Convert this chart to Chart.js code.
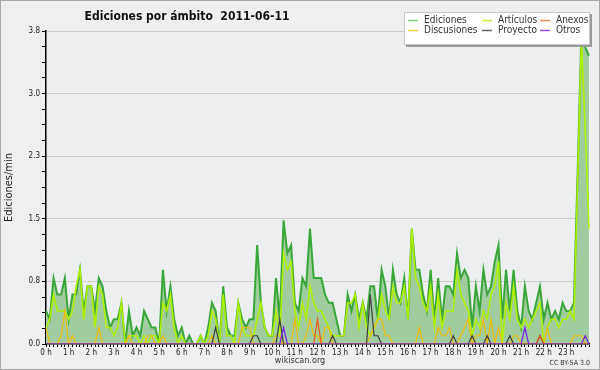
<!DOCTYPE html>
<html><head><meta charset="utf-8">
<script src="https://cdn.jsdelivr.net/npm/chart.js@4.4.1/dist/chart.umd.min.js"></script>
<style>html,body{margin:0;padding:0;background:#efefef;}canvas{display:block;}</style>
</head><body>
<canvas id="c" width="600" height="370"></canvas>
<script>
// 10-minute slots, 00:00 .. 24:00
const hourLabels = ['0 h','1 h','2 h','3 h','4 h','5 h','6 h','7 h','8 h','9 h','10 h','11 h','12 h','13 h','14 h','15 h','16 h','17 h','18 h','19 h','20 h','21 h','22 h','23 h'];
const slots = [];
for (let h = 0; h <= 24; h++) for (let m = 0; m < 60; m += 10) { if (h === 24 && m > 0) break; slots.push(String(h).padStart(2,'0') + ':' + String(m).padStart(2,'0')); }
const yTickLabels = ['0.0','0.8','1.5','2.3','3.0','3.8'];

const ediciones = [
0.4,0.3,0.8,0.6,0.6,0.8,0.3,0.6,0.6,0.9,
0.4,0.7,0.7,0.4,0.8,0.7,0.4,0.2,0.3,0.3,
0.5,0.0,0.4,0.1,0.2,0.1,0.4,0.3,0.2,0.2,
0.0,0.9,0.4,0.7,0.3,0.1,0.2,0.0,0.1,0.0,
0.0,0.1,0.0,0.2,0.5,0.4,0.0,0.7,0.2,0.1,
0.1,0.5,0.3,0.2,0.3,0.3,1.2,0.5,0.2,0.1,
0.1,0.8,0.3,1.5,1.1,1.2,0.5,0.4,0.8,0.7,
1.4,0.8,0.8,0.8,0.6,0.5,0.5,0.3,0.1,0.1,
0.6,0.4,0.6,0.3,0.5,0.3,0.7,0.7,0.3,0.9,
0.7,0.3,0.9,0.6,0.5,0.8,0.3,1.4,0.9,0.9,
0.6,0.4,0.9,0.3,0.8,0.3,0.7,0.7,0.6,1.1,
0.8,0.9,0.8,0.2,0.7,0.4,0.9,0.6,0.7,1.0,
1.2,0.3,0.9,0.4,0.9,0.4,0.2,0.7,0.4,0.3,
0.5,0.7,0.3,0.5,0.3,0.4,0.3,0.5,0.4,0.4,
0.5,2.1,3.8,3.6,3.5];
const articulos = [
0.2,0.3,0.6,0.4,0.4,0.4,0.3,0.4,0.7,0.9,
0.3,0.7,0.7,0.2,0.7,0.6,0.2,0.2,0.1,0.2,
0.5,0.0,0.1,0.1,0.1,0.0,0.1,0.0,0.1,0.1,
0.0,0.5,0.4,0.6,0.2,0.0,0.1,0.0,0.0,0.0,
0.0,0.1,0.0,0.1,0.4,0.3,0.0,0.6,0.1,0.1,
0.0,0.5,0.2,0.1,0.1,0.1,0.3,0.5,0.2,0.1,
0.1,0.4,0.1,1.1,0.9,1.0,0.4,0.2,0.5,0.3,
0.7,0.5,0.4,0.4,0.3,0.2,0.1,0.1,0.1,0.1,
0.5,0.5,0.6,0.2,0.5,0.2,0.1,0.2,0.3,0.6,
0.4,0.3,0.7,0.5,0.5,0.7,0.3,1.4,0.8,0.7,
0.5,0.4,0.7,0.2,0.6,0.2,0.4,0.4,0.4,0.9,
0.6,0.5,0.4,0.1,0.3,0.2,0.4,0.3,0.6,0.7,
1.0,0.0,0.5,0.3,0.7,0.3,0.2,0.3,0.2,0.3,
0.4,0.5,0.0,0.2,0.3,0.3,0.2,0.3,0.3,0.4,
0.3,2.0,3.7,2.6,1.4];
const discusiones = [
0.2,0,0,0,0.1,0.4,0,0.1,0,0,
0,0,0,0,0.2,0,0,0,0,0,
0,0,0.1,0,0,0,0,0.1,0.1,0,
0,0.1,0,0,0,0,0,0,0,0,
0,0,0,0,0.1,0,0,0,0,0,
0,0,0.2,0.2,0.2,0,0,0,0,0,
0,0.1,0.1,0,0,0,0.3,0,0,0.1,
0.3,0.1,0.1,0,0.2,0.2,0,0,0,0,
0,0,0,0,0,0,0.1,0.2,0.3,0.3,
0.1,0.1,0,0,0,0,0,0,0,0.2,
0,0,0,0,0.2,0.1,0.1,0.2,0,0,
0.1,0.2,0.3,0,0.1,0.1,0.3,0,0.3,0,
0.2,0,0,0,0.1,0.1,0,0,0,0,
0,0,0,0.2,0,0,0,0,0,0,
0.1,0.1,0.1,0,0];
const proyecto = [
0,0,0,0,0,0,0,0,0,0,
0,0,0,0,0,0,0,0,0,0,
0,0,0,0,0,0,0,0,0,0,
0,0,0,0,0,0,0,0,0,0,
0,0,0,0,0,0.2,0,0,0,0,
0,0,0,0,0,0.1,0.1,0,0,0,
0,0,0.3,0,0,0,0,0,0,0,
0,0,0,0,0,0,0.1,0,0,0,
0,0,0,0,0,0,0.6,0.1,0.1,0,
0,0,0,0,0,0,0,0,0,0,
0,0,0,0,0,0,0,0,0.1,0,
0,0,0,0.1,0,0,0,0.1,0,0,
0,0,0,0.1,0,0,0,0,0,0,
0,0.1,0,0,0,0,0,0,0,0,
0,0,0,0,0];
const anexos = [
0,0,0,0,0,0,0,0,0,0,
0,0,0,0,0,0,0,0,0,0,
0,0,0,0,0,0,0,0,0,0,
0,0,0,0,0,0,0,0,0,0,
0,0,0,0,0,0,0,0,0,0,
0,0,0,0,0,0,0,0,0,0,
0,0,0,0,0,0,0,0,0,0,
0,0,0.3,0,0,0,0,0,0,0,
0,0,0,0,0,0,0,0,0,0,
0,0,0,0,0,0,0,0,0,0,
0,0,0,0,0,0,0,0,0,0,
0,0,0,0,0,0,0,0,0,0,
0,0,0,0,0,0,0,0,0,0,
0,0.1,0,0,0,0,0,0,0,0,
0,0,0,0,0];
const otros = [
0,0,0,0,0,0,0,0,0,0,
0,0,0,0,0,0,0,0,0,0,
0,0,0,0,0,0,0,0,0,0,
0,0,0,0,0,0,0,0,0,0,
0,0,0,0,0,0,0,0,0,0,
0,0,0,0,0,0,0,0,0,0,
0,0,0,0.2,0,0,0,0,0,0,
0,0,0,0,0,0,0,0,0,0,
0,0,0,0,0,0,0,0,0,0,
0,0,0,0,0,0,0,0,0,0,
0,0,0,0,0,0,0,0,0,0,
0,0,0,0,0,0,0,0,0,0,
0,0,0,0,0,0,0,0.2,0,0,
0,0,0,0,0,0,0,0,0,0,
0,0,0,0.1,0];

const FONT = "'DejaVu Sans Condensed', 'DejaVu Sans', sans-serif";
Chart.defaults.font.family = FONT;
Chart.defaults.color = '#222';

const legendItems = [
  {label:'Ediciones', color:'#7fd07f', col:0, row:0},
  {label:'Artículos', color:'#c6f03c', col:1, row:0},
  {label:'Anexos', color:'#f08a4a', col:2, row:0},
  {label:'Discusiones', color:'#f5d040', col:0, row:1},
  {label:'Proyecto', color:'#606060', col:1, row:1},
  {label:'Otros', color:'#a050f0', col:2, row:1}
];

const decor = {
  id:'decor',
  beforeDraw(chart){
    const c = chart.ctx, a = chart.chartArea;
    c.save();
    c.fillStyle = '#efefef'; c.fillRect(0,0,600,370);
    c.strokeStyle = '#a8a8a8'; c.lineWidth = 1; c.strokeRect(0.5,0.5,599,369);
    c.fillStyle = '#edeef0'; c.fillRect(a.left, a.top, a.right-a.left, a.bottom-a.top);
    c.restore();
  },
  afterDraw(chart){
    const c = chart.ctx;
    c.save();
    c.fillStyle = '#111';
    c.font = "bold 12px " + FONT;
    c.textAlign = 'center'; c.textBaseline = 'alphabetic';
    c.fillText('Ediciones por ámbito  2011-06-11', 187, 20);
    // legend
    const bx = 404, by = 12, bw = 186, bh = 33;
    c.fillStyle = '#9a9a9a'; c.fillRect(bx+2, by+2, bw, bh);
    c.fillStyle = '#ffffff'; c.fillRect(bx, by, bw, bh);
    c.strokeStyle = '#c8c8c8'; c.lineWidth = 1; c.strokeRect(bx+0.5, by+0.5, bw-1, bh-1);
    const colX = [408, 482, 540], rowY = [20, 30];
    c.font = "10px " + FONT; c.textAlign = 'left'; c.textBaseline = 'middle';
    legendItems.forEach(it => {
      const x = colX[it.col], y = rowY[it.row];
      c.strokeStyle = it.color; c.lineWidth = 1.5;
      c.beginPath(); c.moveTo(x, y+0.5); c.lineTo(x+10, y+0.5); c.stroke();
      c.fillStyle = '#333'; c.fillText(it.label, x+16, y);
    });
    c.fillStyle = '#333';
    c.font = "9px " + FONT; c.textAlign = 'center';
    c.fillText('wikiscan.org', 300, 361);
    c.font = "7px " + FONT; c.textAlign = 'right';
    c.fillText('CC BY-SA 3.0', 590, 363);
    c.restore();
  }
};

new Chart(document.getElementById('c'), {
  type:'line',
  data:{
    labels: slots,
    datasets:[
      {label:'Ediciones', data:ediciones, borderColor:'#38a638', backgroundColor:'#a0cca0', fill:'origin', borderWidth:2, order:6},
      {label:'Artículos', data:articulos, borderColor:'#b0f000', borderWidth:1.6, fill:false, order:5},
      {label:'Discusiones', data:discusiones, borderColor:'#f0bc00', borderWidth:1.2, fill:false, order:4},
      {label:'Proyecto', data:proyecto, borderColor:'#404040', borderWidth:1.2, fill:false, order:3},
      {label:'Anexos', data:anexos, borderColor:'#f05a14', borderWidth:1.2, fill:false, order:2},
      {label:'Otros', data:otros, borderColor:'#7a1cf0', borderWidth:1.2, fill:false, order:1}
    ]
  },
  options:{
    responsive:false, animation:false, devicePixelRatio:1,
    layout:{padding:{top:31, right:11, left:0, bottom:0}},
    elements:{point:{radius:0}, line:{tension:0}},
    plugins:{legend:{display:false}, tooltip:{enabled:false}, title:{display:false}},
    scales:{
      x:{
        type:'category', offset:false,
        afterFit(s){ s.height = 26; },
        grid:{drawOnChartArea:false, drawTicks:true, tickLength:3, tickColor:'#000'},
        border:{display:true, color:'#000', width:1.5},
        ticks:{autoSkip:false, maxRotation:0, minRotation:0, padding:1, font:{size:8}, color:'#222',
          callback(v, i){ return (i % 6 === 0 && i < 144) ? hourLabels[i/6] : ''; }}
      },
      y:{
        min:0, max:3.8,
        afterFit(s){ s.width = 46; },
        grid:{drawTicks:true, tickLength:4, tickColor:'#000',
          color(ctx){ return (ctx.index % 4 === 0 && ctx.index > 0) ? '#cdcdcd' : 'rgba(0,0,0,0)'; }},
        border:{display:true, color:'#000', width:1.5},
        title:{display:true, text:'Ediciones/min', font:{size:11}, color:'#222', padding:{top:3,bottom:0}},
        ticks:{stepSize:0.19, padding:2, font:{size:8}, color:'#222', autoSkip:false,
          callback(v, i){ return i % 4 === 0 ? yTickLabels[i/4] : ''; }}
      }
    }
  },
  plugins:[decor]
});
</script>
</body></html>
